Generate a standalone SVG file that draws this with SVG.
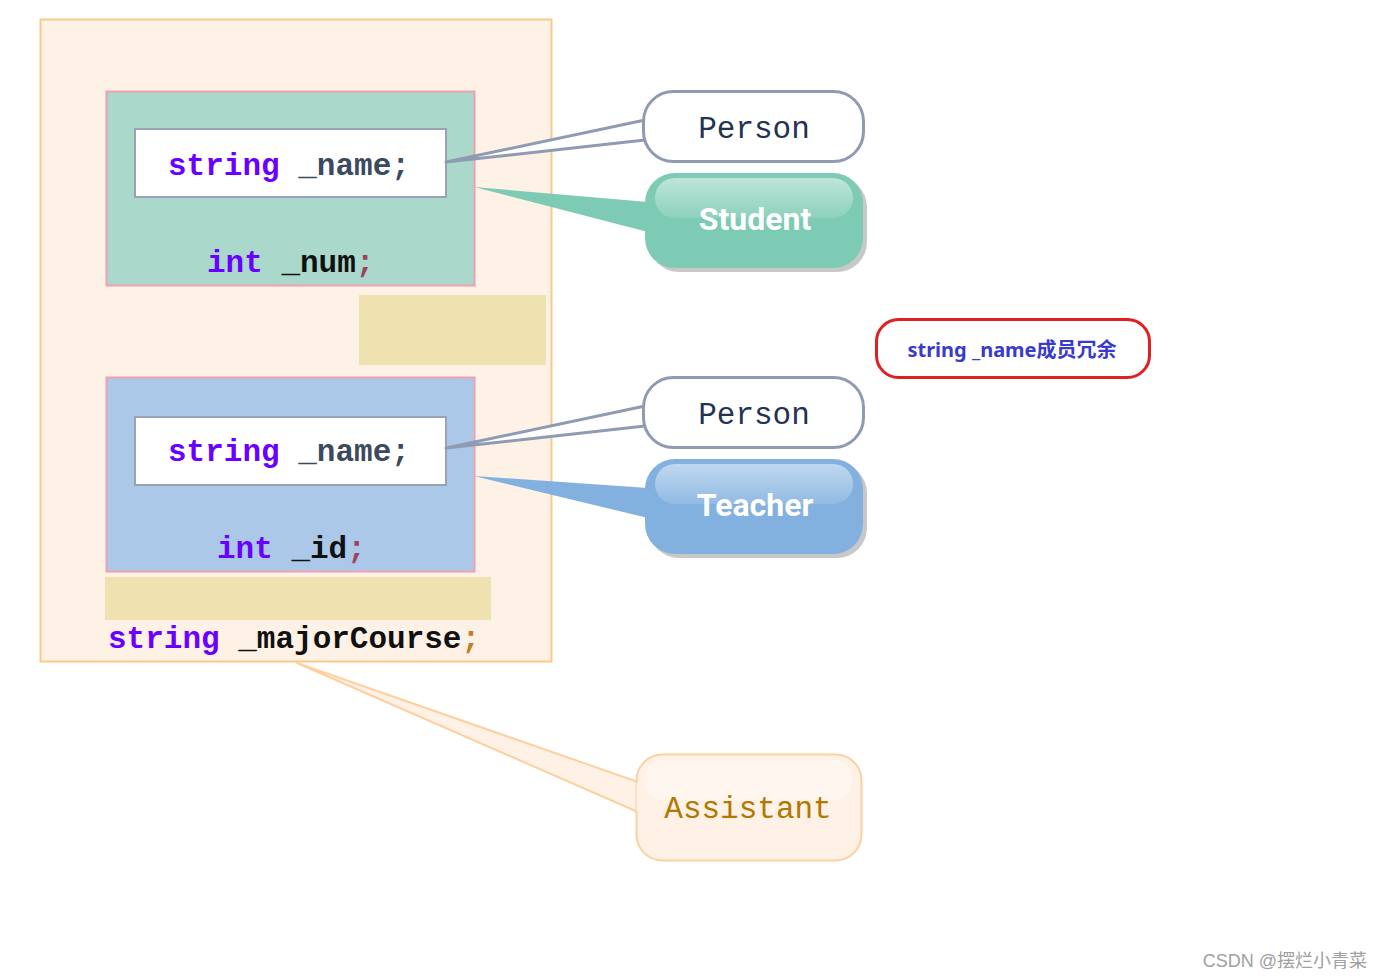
<svg xmlns="http://www.w3.org/2000/svg" width="1383" height="979" viewBox="0 0 1383 979">
<defs>
<style>
.code{font-family:"Liberation Mono","Courier New",monospace;font-size:31px;font-weight:bold}
.kw{fill:#6a00ff}
.id{fill:#111}
.idn{fill:#3b4a5e}
.semi{fill:#a04060}
.person{fill:#fff;stroke:#8f9bb3;stroke-width:3}
.ptext{font-family:"Liberation Mono","Courier New",monospace;font-size:31px;fill:#233350;text-anchor:middle}
.btext{font-family:"Roboto","Liberation Sans",sans-serif;font-size:32px;font-weight:bold;fill:#fff;text-anchor:middle}
.inner{fill:#fff;stroke:#9aa3b5;stroke-width:2}
.cls{stroke:#f0a0b0;stroke-width:2}
.tan{fill:#efe1b0}
</style>
<linearGradient id="gloss" x1="0" y1="0" x2="0" y2="1">
<stop offset="0" stop-color="#fff" stop-opacity="0.5"/>
<stop offset="1" stop-color="#fff" stop-opacity="0.12"/>
</linearGradient>
</defs>
<rect width="1383" height="979" fill="#fff"/>

<g id="assistant-object">
<rect x="40.5" y="19.5" width="511" height="642" fill="#fef1e6" stroke="#f9c98c" stroke-width="2"/>
</g>

<g id="student-part">
<rect class="cls" x="106.5" y="91.5" width="368" height="194" fill="#aad8cb"/>
<rect class="inner" x="135" y="129" width="311" height="68"/>
<text class="code" x="168" y="175"><tspan class="kw">string</tspan><tspan class="idn"> _name;</tspan></text>
<text class="code" x="207" y="272"><tspan class="kw">int</tspan><tspan class="id"> _num</tspan><tspan class="semi">;</tspan></text>
</g>

<g id="tan-gap-1"><rect class="tan" x="359" y="295" width="187" height="70"/></g>

<g id="teacher-part">
<rect class="cls" x="106.5" y="377.5" width="368" height="194" fill="#abc8e8"/>
<rect class="inner" x="135" y="417" width="311" height="68"/>
<text class="code" x="168" y="461"><tspan class="kw">string</tspan><tspan class="idn"> _name;</tspan></text>
<text class="code" x="217" y="558"><tspan class="kw">int</tspan><tspan class="id"> _id</tspan><tspan class="semi">;</tspan></text>
</g>

<g id="tan-gap-2"><rect class="tan" x="105" y="577" width="386" height="43"/></g>

<g id="major-course">
<text class="code" x="108" y="648"><tspan class="kw">string</tspan><tspan class="id"> _majorCourse</tspan><tspan fill="#c08020">;</tspan></text>
</g>

<g id="connectors">
<path d="M446,162 L645,120 L645,140 Z" fill="#fff" stroke="#8f9bb3" stroke-width="3" stroke-linejoin="round"/>
<path d="M474,187 L648,202 L648,232 Z" fill="#7dcbb4"/>
<path d="M446,448 L645,406 L645,426 Z" fill="#fff" stroke="#8f9bb3" stroke-width="3" stroke-linejoin="round"/>
<path d="M474,476 L648,488 L648,518 Z" fill="#82b1e0"/>
<path d="M297,663 L638,782 L638,812 Z" fill="#fff1e5" stroke="#fdd0a0" stroke-width="2" stroke-linejoin="round"/>
</g>

<g id="person-1">
<rect class="person" x="643.5" y="91.5" width="220" height="70" rx="30"/>
<text class="ptext" x="754" y="138">Person</text>
</g>

<g id="student">
<rect x="649" y="177" width="218" height="95" rx="30" fill="#c8c8c8"/>
<rect x="645" y="173" width="218" height="95" rx="30" fill="#7dcbb4"/>
<rect x="655" y="178" width="198" height="40" rx="20" fill="url(#gloss)"/>
<text class="btext" x="755" y="230">Student</text>
</g>

<g id="person-2">
<rect class="person" x="643.5" y="377.5" width="220" height="70" rx="30"/>
<text class="ptext" x="754" y="424">Person</text>
</g>

<g id="teacher">
<rect x="649" y="463" width="218" height="95" rx="30" fill="#c8c8c8"/>
<rect x="645" y="459" width="218" height="95" rx="30" fill="#82b1e0"/>
<rect x="655" y="464" width="198" height="40" rx="20" fill="url(#gloss)"/>
<text class="btext" x="755" y="516">Teacher</text>
</g>

<g id="assistant">
<rect x="636.5" y="754.5" width="225" height="106" rx="26" fill="#fff1e5" stroke="#fdd0a0" stroke-width="2"/>
<rect x="645" y="760" width="207" height="40" rx="18" fill="#fff" opacity="0.4"/>
<path d="M638,783 L638,811" stroke="#fff1e5" stroke-width="3"/>
<text class="ptext" x="748" y="818" style="fill:#b07800">Assistant</text>
</g>

<g id="redundancy-note">
<rect x="876.5" y="319.5" width="273" height="58" rx="22" fill="#fff" stroke="#e02020" stroke-width="3"/>
<text x="1012" y="357" text-anchor="middle" font-family="'Noto Sans','Noto Sans CJK SC',sans-serif" font-size="20" font-weight="bold" fill="#3a3acc">string _name成员冗余</text>
</g>

<text x="1367" y="967" text-anchor="end" font-family="'Liberation Sans','Noto Sans CJK SC',sans-serif" font-size="18" fill="#a0a0a0">CSDN @摆烂小青菜</text>
</svg>
